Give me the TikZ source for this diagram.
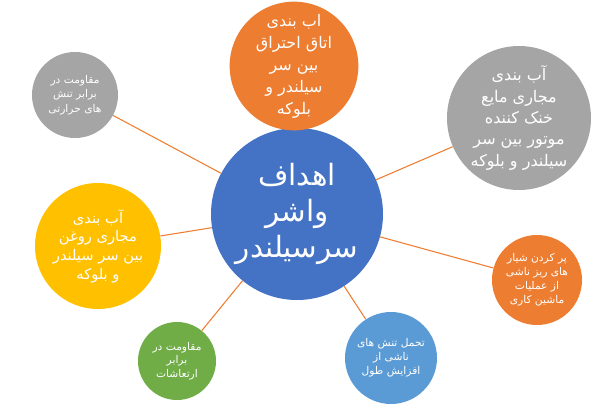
\documentclass[tikz,border=0pt]{standalone}
\usepackage{fontspec}
\newfontfamily\farsi[Script=Arabic]{DejaVu Sans}
\TeXXeTstate=1
\newcommand{\rl}[1]{\beginR #1\endR}
\definecolor{goalblue}{HTML}{4472C4}
\definecolor{goalorange}{HTML}{ED7D31}
\definecolor{goalgray}{HTML}{A5A5A5}
\definecolor{goalyellow}{HTML}{FFC000}
\definecolor{goalgreen}{HTML}{70AD47}
\definecolor{goalsky}{HTML}{5B9BD5}

\begin{document}
\begin{tikzpicture}[x=0.75pt, y=-0.75pt,
    goal/.style={circle, inner sep=0pt, text=white, align=center},
    link/.style={draw=goalorange, line width=0.8pt}]
            \useasboundingbox (0,0) rectangle (613,406);
            \node[goal, fill=goalblue, minimum size=129pt, font=\farsi\fontsize{22}{27}\selectfont] at (297, 214)   (g) {\rl{اهداف}\\\rl{واشر}\\\rl{سرسیلندر}};
            \node[goal, fill=goalorange, minimum size=90pt, font=\farsi\fontsize{12}{16.5}\selectfont] at (294, 66)   (comb) {\rl{اب بندی}\\\rl{اتاق احتراق}\\\rl{بین سر}\\\rl{سیلندر و}\\\rl{بلوکه}};
            \node[goal, fill=goalgray, minimum size=108pt, font=\farsi\fontsize{12}{16}\selectfont] at (519, 118)   (cool) {\rl{آب بندی}\\\rl{مجاری مایع}\\\rl{خنک کننده}\\\rl{موتور بین سر}\\\rl{سیلندر و بلوکه}};
            \node[goal, fill=goalgray, minimum size=64.5pt, font=\farsi\fontsize{8}{11}\selectfont] at (75, 95)   (heat) {\rl{مقاومت در}\\\rl{برابر تنش}\\\rl{های حرارتی}};
            \node[goal, fill=goalyellow, minimum size=94.5pt, font=\farsi\fontsize{11}{14}\selectfont] at (98, 246)   (oil) {\rl{آب بندی}\\\rl{مجاری روغن}\\\rl{بین سر سیلندر}\\\rl{و بلوکه}};
            \node[goal, fill=goalorange, minimum size=67.5pt, font=\farsi\fontsize{8}{10.5}\selectfont] at (537, 280)   (fill) {\rl{پر کردن شیار}\\\rl{های ریز ناشی}\\\rl{از عملیات}\\\rl{ماشین کاری}};
            \node[goal, fill=goalgreen, minimum size=58.5pt, font=\farsi\fontsize{8}{10}\selectfont] at (177, 361)   (vib) {\rl{مقاومت در}\\\rl{برابر}\\\rl{ارتعاشات}};
            \node[goal, fill=goalsky, minimum size=69pt, font=\farsi\fontsize{8}{10.5}\selectfont] at (391, 358)   (len) {\rl{تحمل تنش های}\\\rl{ناشی از}\\\rl{افزایش طول}};

            \draw [link] (g) -- (comb);
            \draw [link] (g) -- (cool);
            \draw [link] (g) -- (heat);
            \draw [link] (g) -- (oil);
            \draw [link] (g) -- (fill);
            \draw [link] (g) -- (vib);
            \draw [link] (g) -- (len);
        \end{tikzpicture}
\end{document}
